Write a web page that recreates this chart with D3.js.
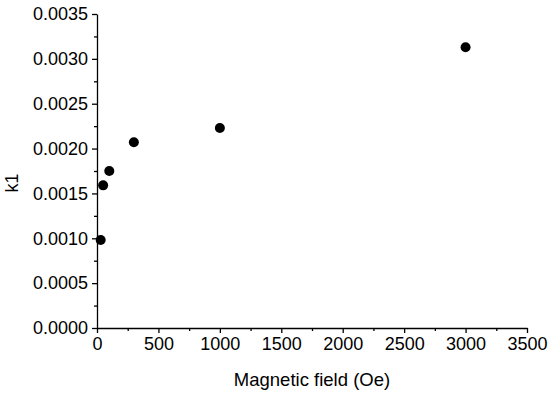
<!DOCTYPE html>
<html>
<head>
<meta charset="utf-8">
<script src="https://cdn.jsdelivr.net/npm/d3@7"></script>
<style>
  body { margin: 0; background: #fff; }
  svg { display: block; font-family: Arial, "Liberation Sans", sans-serif; }
</style>
</head>
<body>
<svg id="chart" width="550" height="393"></svg>
<script>
// data
var fields = [30, 50, 100, 300, 1000, 3000];
var k1 = [0.00098, 0.00159, 0.00175, 0.00207, 0.00223, 0.00313];
var xTicks = [0, 500, 1000, 1500, 2000, 2500, 3000, 3500];
var yTicks = [0, 0.0005, 0.001, 0.0015, 0.002, 0.0025, 0.003, 0.0035];

var svg = d3.select("#chart"),
  margin = { top: 14, right: 23, bottom: 65, left: 97 },
  width = svg.attr("width") - margin.left - margin.right,
  height = svg.attr("height") - margin.top - margin.bottom,
  g = svg.append("g").attr("transform", "translate(" + margin.left + "," + margin.top + ")");

var x = d3.scaleLinear().domain([0, 3500]).range([0, width]),
  y = d3.scaleLinear().domain([0, 0.0035]).range([height, 0]);

function minor(t) {
  var out = [];
  for (var i = 0; i < t.length - 1; i++) out.push((t[i] + t[i + 1]) / 2);
  return out;
}

// minor ticks first, then the major axes
g.append("g")
  .attr("transform", "translate(0," + height + ")")
  .call(d3.axisBottom(x).tickValues(minor(xTicks)).tickSize(3).tickFormat(""))
  .call(function(a) { a.select(".domain").remove(); });

g.append("g")
  .call(d3.axisLeft(y).tickValues(minor(yTicks)).tickSize(3).tickFormat(""))
  .call(function(a) { a.select(".domain").remove(); });

g.append("g")
  .attr("class", "axis axis--x")
  .attr("transform", "translate(0," + height + ")")
  .call(d3.axisBottom(x).tickValues(xTicks).tickSize(5).tickSizeOuter(0).tickPadding(4).tickFormat(d3.format("d")));

g.append("g")
  .attr("class", "axis axis--y")
  .call(d3.axisLeft(y).tickValues(yTicks).tickSize(5).tickSizeOuter(0).tickPadding(4).tickFormat(d3.format(".4f")));

svg.selectAll(".axis text")
  .attr("font-size", "18px")
  .attr("font-family", "Arial, 'Liberation Sans', sans-serif")
  .attr("fill", "#000");
svg.selectAll(".tick line, .domain").attr("stroke", "#000").attr("stroke-width", 1.3);

svg.append("text")
  .attr("x", margin.left + width / 2)
  .attr("y", 386)
  .attr("text-anchor", "middle")
  .attr("font-size", "18.5px")
  .attr("fill", "#000")
  .text("Magnetic field (Oe)");

svg.append("text")
  .attr("transform", "translate(18,183) rotate(-90)")
  .attr("text-anchor", "middle")
  .attr("font-size", "18px")
  .attr("fill", "#000")
  .text("k1");

g.selectAll(".dot")
  .data(fields.map(function(f, i) { return { f: f, k: k1[i] }; }))
  .enter()
  .append("circle")
  .attr("class", "dot")
  .attr("r", 5)
  .attr("cx", function(d) { return x(d.f); })
  .attr("cy", function(d) { return y(d.k); })
  .style("fill", "#000");
</script>
</body>
</html>
